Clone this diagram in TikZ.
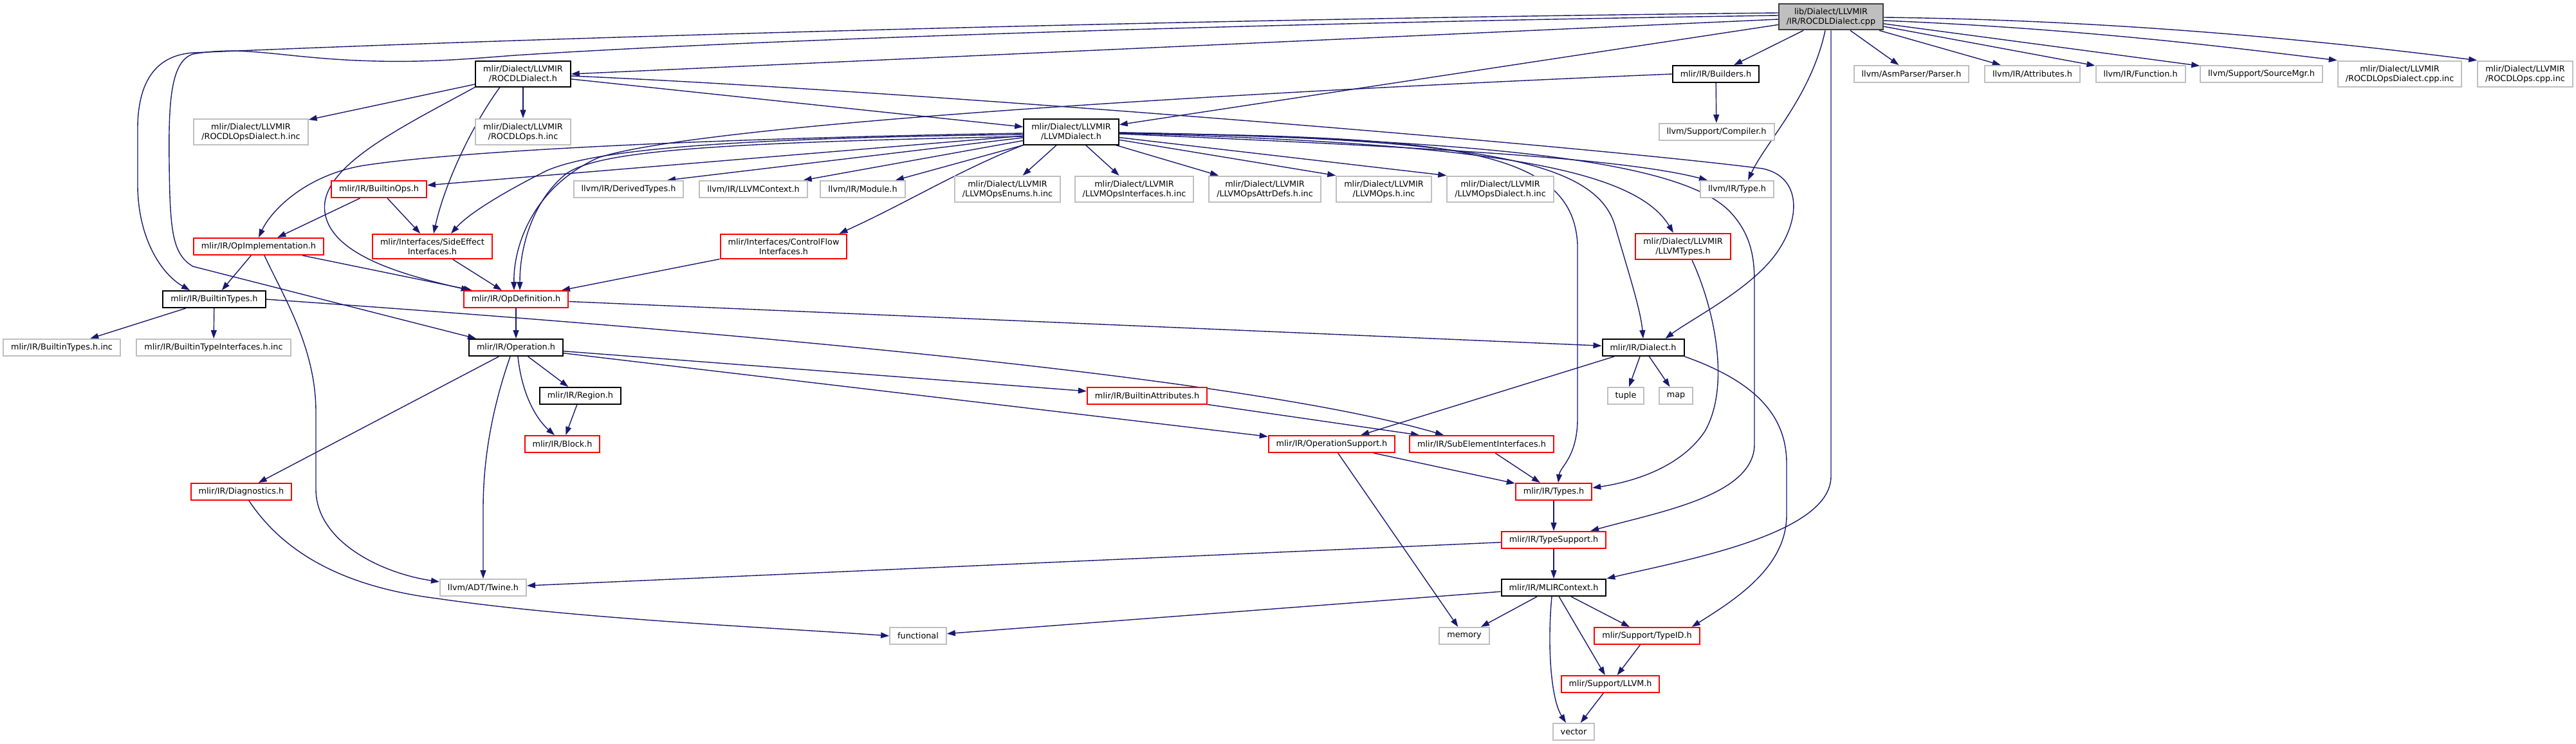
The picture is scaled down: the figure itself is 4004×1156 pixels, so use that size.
\documentclass[tikz,border=0pt]{standalone}
\usepackage{fontspec}
\setmainfont{DejaVu Sans}
\usetikzlibrary{arrows.meta,calc,backgrounds}
\definecolor{edgeblue}{HTML}{191970}
\definecolor{greyborder}{HTML}{BFBFBF}
\definecolor{rootfill}{HTML}{BFBFBF}
\begin{document}
\begin{tikzpicture}[x=0.5pt,y=-0.5pt,
  box/.style={draw, line width=1pt, fill=white, font=\fontsize{6.4}{7.5}\selectfont,
    inner xsep=6pt, inner ysep=3.3pt, minimum height=13pt, align=center},
  docbox/.style={box, draw=black},
  greybox/.style={box, draw=greyborder},
  redbox/.style={box, draw=red},
  rootbox/.style={box, draw=black!75, fill=rootfill},
  e/.style={draw=edgeblue, line width=0.7pt, -{Triangle[length=6.5pt,width=4.5pt]}}
]
\useasboundingbox (0,0) rectangle (4004,1156);

% ---------- nodes ----------
\node[rootbox] (cpp) at (2846,26) {lib/Dialect/LLVMIR\\/IR/ROCDLDialect.cpp};
\node[docbox] (rh) at (813,115) {mlir/Dialect/LLVMIR\\/ROCDLDialect.h};
\node[docbox] (bld) at (2667,115) {mlir/IR/Builders.h};
\node[greybox] (parser) at (2971,115) {llvm/AsmParser/Parser.h};
\node[greybox] (attrs) at (3159,115) {llvm/IR/Attributes.h};
\node[greybox] (func) at (3327,115) {llvm/IR/Function.h};
\node[greybox] (srcmgr) at (3515,115) {llvm/Support/SourceMgr.h};
\node[greybox] (rocdlopsdialcpp) at (3730,115) {mlir/Dialect/LLVMIR\\/ROCDLOpsDialect.cpp.inc};
\node[greybox] (rocdlopscpp) at (3925,115) {mlir/Dialect/LLVMIR\\/ROCDLOps.cpp.inc};
\node[greybox] (rodhinc) at (390,205) {mlir/Dialect/LLVMIR\\/ROCDLOpsDialect.h.inc};
\node[greybox] (rohinc) at (813,205) {mlir/Dialect/LLVMIR\\/ROCDLOps.h.inc};
\node[docbox] (lh) at (1665,205) {mlir/Dialect/LLVMIR\\/LLVMDialect.h};
\node[greybox] (compiler) at (2668,205) {llvm/Support/Compiler.h};
\node[redbox] (bops) at (589,294) {mlir/IR/BuiltinOps.h};
\node[greybox] (derived) at (977,294) {llvm/IR/DerivedTypes.h};
\node[greybox] (llvmctx) at (1171,294) {llvm/IR/LLVMContext.h};
\node[greybox] (module) at (1341,294) {llvm/IR/Module.h};
\node[greybox] (enums) at (1566,294) {mlir/Dialect/LLVMIR\\/LLVMOpsEnums.h.inc};
\node[greybox] (ifaces) at (1763,294) {mlir/Dialect/LLVMIR\\/LLVMOpsInterfaces.h.inc};
\node[greybox] (attrdefs) at (1966,294) {mlir/Dialect/LLVMIR\\/LLVMOpsAttrDefs.h.inc};
\node[greybox] (opsinc) at (2151,294) {mlir/Dialect/LLVMIR\\/LLVMOps.h.inc};
\node[greybox] (opsdial) at (2332,294) {mlir/Dialect/LLVMIR\\/LLVMOpsDialect.h.inc};
\node[greybox] (type) at (2700,294) {llvm/IR/Type.h};
\node[redbox] (opimpl) at (402,383) {mlir/IR/OpImplementation.h};
\node[redbox] (side) at (672,383) {mlir/Interfaces/SideEffect\\Interfaces.h};
\node[redbox] (cflow) at (1218,383) {mlir/Interfaces/ControlFlow\\Interfaces.h};
\node[redbox] (llvmtypes) at (2616,383) {mlir/Dialect/LLVMIR\\/LLVMTypes.h};
\node[docbox] (btypes) at (333,465) {mlir/IR/BuiltinTypes.h};
\node[redbox] (opdef) at (802,465) {mlir/IR/OpDefinition.h};
\node[greybox] (btinc) at (96,540) {mlir/IR/BuiltinTypes.h.inc};
\node[greybox] (btiinc) at (332,540) {mlir/IR/BuiltinTypeInterfaces.h.inc};
\node[docbox] (operation) at (802,540) {mlir/IR/Operation.h};
\node[docbox] (dialect) at (2554,540) {mlir/IR/Dialect.h};
\node[docbox] (region) at (902,615) {mlir/IR/Region.h};
\node[redbox] (battrs) at (1783,615) {mlir/IR/BuiltinAttributes.h};
\node[greybox] (tuple) at (2527,615) {tuple};
\node[greybox] (map) at (2605,615) {map};
\node[redbox] (block) at (874,690) {mlir/IR/Block.h};
\node[redbox] (opsupport) at (2070,690) {mlir/IR/OperationSupport.h};
\node[redbox] (subelem) at (2303,690) {mlir/IR/SubElementInterfaces.h};
\node[redbox] (diag) at (375,764) {mlir/IR/Diagnostics.h};
\node[redbox] (types) at (2415,764) {mlir/IR/Types.h};
\node[redbox] (typesupport) at (2415,839) {mlir/IR/TypeSupport.h};
\node[greybox] (twine) at (751,913) {llvm/ADT/Twine.h};
\node[docbox] (mlirctx) at (2415,913) {mlir/IR/MLIRContext.h};
\node[greybox] (functional) at (1427,988) {functional};
\node[greybox] (memory) at (2276,988) {memory};
\node[redbox] (typeid) at (2560,988) {mlir/Support/TypeID.h};
\node[redbox] (llvmh) at (2503,1063) {mlir/Support/LLVM.h};
\node[greybox] (vector) at (2446,1137) {vector};

% ---------- edges ----------
\begin{pgfonlayer}{background}
% from ROCDLDialect.cpp
\draw[e] ($(cpp.west)+(0,-6)$) .. controls (1800,30) and (800,60) .. (300,82)
  .. controls (240,86) and (214,130) .. (214,200) -- (214,290)
  .. controls (215,370) and (250,425) .. ($(btypes.north)+(-38,0)$);
\draw[e] ($(cpp.west)+(0,-2)$) .. controls (2000,35) and (1200,60) .. (800,86)
  .. controls (720,92) and (640,100) .. (520,92)
  .. controls (420,85) and (370,72) .. (300,84)
  .. controls (265,95) and (262,160) .. (263,250)
  .. controls (264,360) and (268,395) .. (300,414) -- ($(operation.north west)+(12,0)$);
\draw[e] ($(cpp.west)+(0,4)$) -- (rh.east);
\draw[e] (cpp) -- (lh);
\draw[e] (cpp) -- (bld);
\draw[e] ($(cpp.south)+(-9,0)$) .. controls (2815,150) and (2745,220) .. ($(type.north)+(17,0)$);
\draw[e] (cpp.south) -- (2846,740) .. controls (2846,830) and (2620,870) .. (mlirctx.north east);
\draw[e] (cpp) -- (parser);
\draw[e] (cpp) -- (attrs);
\draw[e] (cpp) -- (func);
\draw[e] (cpp) -- (srcmgr);
\draw[e] ($(cpp.east)+(0,6)$) .. controls (3250,45) and (3500,78) .. (rocdlopsdialcpp.north west);
\draw[e] ($(cpp.east)+(0,1)$) .. controls (3350,32) and (3700,75) .. (rocdlopscpp.north west);
% from ROCDLDialect.h
\draw[e] (rh) -- (rodhinc);
\draw[e] (rh) -- (rohinc);
\draw[e] (rh) -- (lh);
\draw[e] ($(rh.east)+(0,3)$) .. controls (1400,140) and (2450,225) .. (2740,262)
  .. controls (2800,275) and (2800,340) .. (2760,395)
  .. controls (2720,450) and (2630,495) .. ($(dialect.north east)+(-30,0)$);
\draw[e] (rh.south west) .. controls (620,200) and (495,260) .. (505,330)
  .. controls (515,400) and (640,430) .. ($(opdef.north west)+(10,0)$);
\draw[e] ($(rh.south)+(-36,0)$) .. controls (730,200) and (690,290) .. ($(side.north)+(2,0)$);
% from Builders.h
\draw[e] (bld) -- (compiler);
\draw[e] (bld.west) .. controls (2000,140) and (1100,190) .. (930,245)
  .. controls (830,290) and (798,380) .. ($(opdef.north)+(-3,0)$);
% from LLVMDialect.h
\draw[e] (lh) -- (bops);
\draw[e] (lh) -- ($(derived.north)+(60,0)$);
\draw[e] (lh) -- (llvmctx);
\draw[e] (lh) -- (module);
\draw[e] (lh) -- (enums);
\draw[e] (lh) -- (ifaces);
\draw[e] (lh) -- (attrdefs);
\draw[e] (lh) -- (opsinc.north west);
\draw[e] (lh) -- (opsdial.north west);
\draw[e] ($(lh.east)+(0,3)$) .. controls (2200,228) and (2520,245) .. ($(type.north west)+(12,0)$);
\draw[e] ($(lh.east)+(0,2)$) .. controls (2250,212) and (2445,230) .. (2452,380) -- (2452,650)
  .. controls (2452,710) and (2425,725) .. ($(types.north)+(7,0)$);
\draw[e] ($(lh.east)+(0,1)$) .. controls (2300,215) and (2480,250) .. (2510,350)
  .. controls (2530,420) and (2550,480) .. (dialect.north);
\draw[e] ($(lh.east)+(0,2)$) .. controls (2300,222) and (2540,260) .. ($(llvmtypes.north)+(-15,0)$);
\draw[e] ($(lh.east)+(0,1)$) .. controls (2350,218) and (2620,255) .. (2690,330)
  .. controls (2722,365) and (2727,400) .. (2727,440) -- (2727,690)
  .. controls (2727,770) and (2580,795) .. ($(typesupport.north east)+(-25,0)$);
\draw[e] ($(lh.west)+(0,2)$) .. controls (1100,215) and (700,235) .. (560,258)
  .. controls (470,275) and (420,330) .. (opimpl.north);
\draw[e] ($(lh.west)+(0,4)$) .. controls (1100,215) and (920,235) .. (850,265)
  .. controls (790,295) and (730,330) .. ($(side.north)+(29,0)$);
\draw[e] ($(lh.west)+(0,7)$) .. controls (1100,222) and (930,235) .. (880,270)
  .. controls (830,310) and (808,380) .. ($(opdef.north)+(6,0)$);
\draw[e] (lh.south west) .. controls (1490,265) and (1410,315) .. ($(cflow.north east)+(-13,0)$);
% BuiltinOps, OpImplementation, interfaces
\draw[e] (bops) -- (opimpl);
\draw[e] (bops) -- (side);
\draw[e] (opimpl) -- (btypes);
\draw[e] (opimpl) -- (opdef);
\draw[e] ($(opimpl.south)+(9,0)$) .. controls (440,460) and (491,540) .. (491,640) -- (491,760)
  .. controls (491,840) and (590,890) .. ($(twine.north west)+(0,5)$);
\draw[e] (side) -- (opdef);
\draw[e] (cflow) -- (opdef);
% OpDefinition, BuiltinTypes
\draw[e] (opdef) -- (operation);
\draw[e] (opdef) -- (dialect);
\draw[e] (btypes) -- (btinc);
\draw[e] (btypes) -- (btiinc);
\draw[e] (btypes.east) .. controls (1200,520) and (1950,590) .. ($(subelem.north)+(-59,0)$);
% Operation
\draw[e] (operation) -- (region);
\draw[e] ($(operation.south)+(3,0)$) .. controls (812,620) and (838,655) .. ($(block.north)+(-12,0)$);
\draw[e] (operation) -- (diag);
\draw[e] ($(operation.south)+(-9,0)$) .. controls (770,620) and (751,700) .. (751,790) -- (twine.north);
\draw[e] (operation) -- (battrs);
\draw[e] (operation) -- (opsupport);
\draw[e] (region) -- (block);
\draw[e] ($(diag.south)+(12,0)$) .. controls (435,850) and (520,910) .. (680,930)
  .. controls (900,962) and (1200,975) .. (functional.west);
\draw[e] (battrs) -- (subelem);
% Dialect
\draw[e] (dialect) -- (opsupport);
\draw[e] (dialect) -- (tuple);
\draw[e] (dialect) -- (map);
\draw[e] (dialect.south east) .. controls (2720,590) and (2777,640) .. (2777,720) -- (2777,800)
  .. controls (2777,880) and (2700,930) .. ($(typeid.north east)+(-13,0)$);
% Types and below
\draw[e] (opsupport) -- (types);
\draw[e] (opsupport) -- (memory);
\draw[e] (subelem) -- (types);
\draw[e] ($(llvmtypes.south)+(14,0)$) .. controls (2665,480) and (2690,600) .. (2650,670)
  .. controls (2610,730) and (2530,750) .. ($(types.east)+(0,-6)$);
\draw[e] (types) -- (typesupport);
\draw[e] (typesupport) -- (twine);
\draw[e] (typesupport) -- (mlirctx);
\draw[e] (mlirctx) -- (functional);
\draw[e] (mlirctx) -- (memory);
\draw[e] (mlirctx) -- (typeid);
\draw[e] (mlirctx) -- (llvmh);
\draw[e] ($(mlirctx.south)+(-3,0)$) .. controls (2405,1000) and (2410,1085) .. ($(vector.north)+(-12,0)$);
\draw[e] (typeid) -- (llvmh);
\draw[e] (llvmh) -- (vector);
\end{pgfonlayer}
\end{tikzpicture}
\end{document}
